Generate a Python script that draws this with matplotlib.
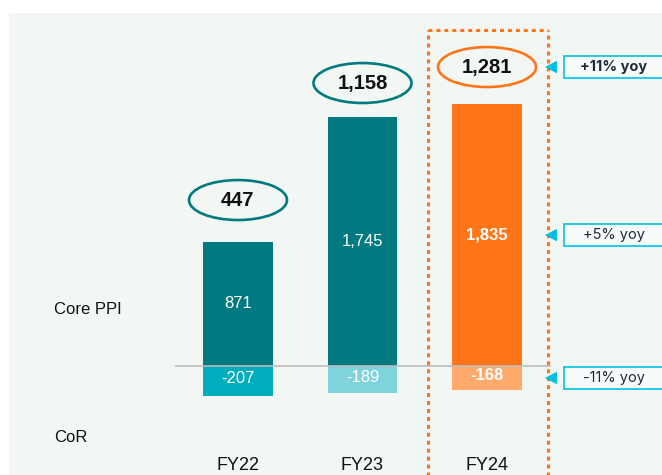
import matplotlib
matplotlib.use("Agg")
import matplotlib.pyplot as plt
from matplotlib.patches import Ellipse, Rectangle, Polygon

plt.rcParams['font.family'] = ['Liberation Sans', 'DejaVu Sans']

# ---- data ----
years = ["FY22", "FY23", "FY24"]
core_ppi = [871, 1745, 1835]
cor = [-207, -189, -168]
totals = ["447", "1,158", "1,281"]
ppi_labels = ["871", "1,745", "1,835"]
cor_labels = ["-207", "-189", "-168"]
yoy_labels = ["+11% yoy", "+5% yoy", "-11% yoy"]

# ---- styles ----
pos_colors = ["#007a80", "#007a80", "#ff7518"]
neg_colors = ["#00adbe", "#7fd3dc", "#ffa96b"]
ell_colors = ["#007a80", "#007a80", "#ff7518"]
bold_flags = [False, False, True]
ellipse_y = [1163, 1983, 2095]

W, H = 662, 475
fig = plt.figure(figsize=(W / 100, H / 100), dpi=100)
fig.patch.set_facecolor("white")

ax = fig.add_axes([0, 0, 1, 1])
ax.set_facecolor("none")
ax.set_xlim(-1.9116, 3.4056)
ax.set_ylim(-763.8, 2564.8)
ax.axis("off")

# background panel
ax.add_patch(Rectangle((9 / W, 0), 1 - 9 / W, (H - 13) / H,
                       transform=fig.transFigure, facecolor="#f3f7f4",
                       edgecolor="none", zorder=0, clip_on=False))

x = list(range(len(years)))
bw = 0.562

ax.bar(x, core_ppi, width=bw, color=pos_colors, zorder=3)
ax.bar(x, cor, width=bw, color=neg_colors, zorder=3)

# baseline
ax.plot([-0.498, 2.506], [0, 0], color="#bdbdbd", lw=1.2, zorder=4)

for i in x:
    fw = "bold" if bold_flags[i] else "normal"
    ax.text(i, core_ppi[i] / 2, ppi_labels[i], ha="center", va="center",
            color="white", fontsize=12, fontweight=fw, zorder=5)
    ax.text(i, cor[i] / 2 + 15, cor_labels[i], ha="center", va="center",
            color="white", fontsize=12, fontweight=fw, zorder=5)
    ax.text(i, -694, years[i], ha="center", va="center", color="#111111",
            fontsize=13, zorder=5)
    e = Ellipse((i, ellipse_y[i]), width=0.787, height=280, facecolor="none",
                edgecolor=ell_colors[i], lw=1.9, zorder=5)
    ax.add_patch(e)
    ax.text(i, ellipse_y[i], totals[i], ha="center", va="center",
            color="#111111", fontsize=14.5, fontweight="bold", zorder=6)

# dotted highlight rectangle around FY24
dcol = "#ff7518"
dkw = dict(color=dcol, lw=2.2, dashes=(1.3, 1.3), dash_capstyle="butt", zorder=6)
x0, x1, ytop, ybot = 1.526, 2.490, 2355, -800
ax.plot([x0, x0], [ybot, ytop], **dkw)
ax.plot([x1, x1], [ybot, ytop], **dkw)
ax.plot([x0, x1], [ytop, ytop], **dkw)

# yoy callouts
yoy_y = [ellipse_y[2], core_ppi[2] / 2, cor[2] / 2]
yoy_bold = [True, False, False]
for yy, lab, b in zip(yoy_y, yoy_labels, yoy_bold):
    tri = Polygon([[2.466, yy], [2.562, yy + 44], [2.562, yy - 44]],
                  closed=True, facecolor="#00bfe0", edgecolor="none", zorder=7)
    ax.add_patch(tri)
    box = Rectangle((2.618, yy - 80), 1.2, 160,
                    facecolor="#f8fbfb", edgecolor="#00c3e0", lw=1.2,
                    zorder=7)
    ax.add_patch(box)
    ax.text(3.02, yy, lab, ha="center", va="center", color="#1c2a3a",
            fontsize=10.5, fontweight="bold" if b else "normal", zorder=8,
            family=["Inter", "Liberation Sans", "DejaVu Sans"])

# side labels
fig.text(54 / W, 1 - 310 / H, "Core PPI", ha="left", va="center",
         fontsize=12, color="#111111")
fig.text(54 / W, 1 - 437 / H, "CoR", ha="left", va="center",
         fontsize=12, color="#111111")

fig.savefig("out.png", dpi=100, facecolor="white")
